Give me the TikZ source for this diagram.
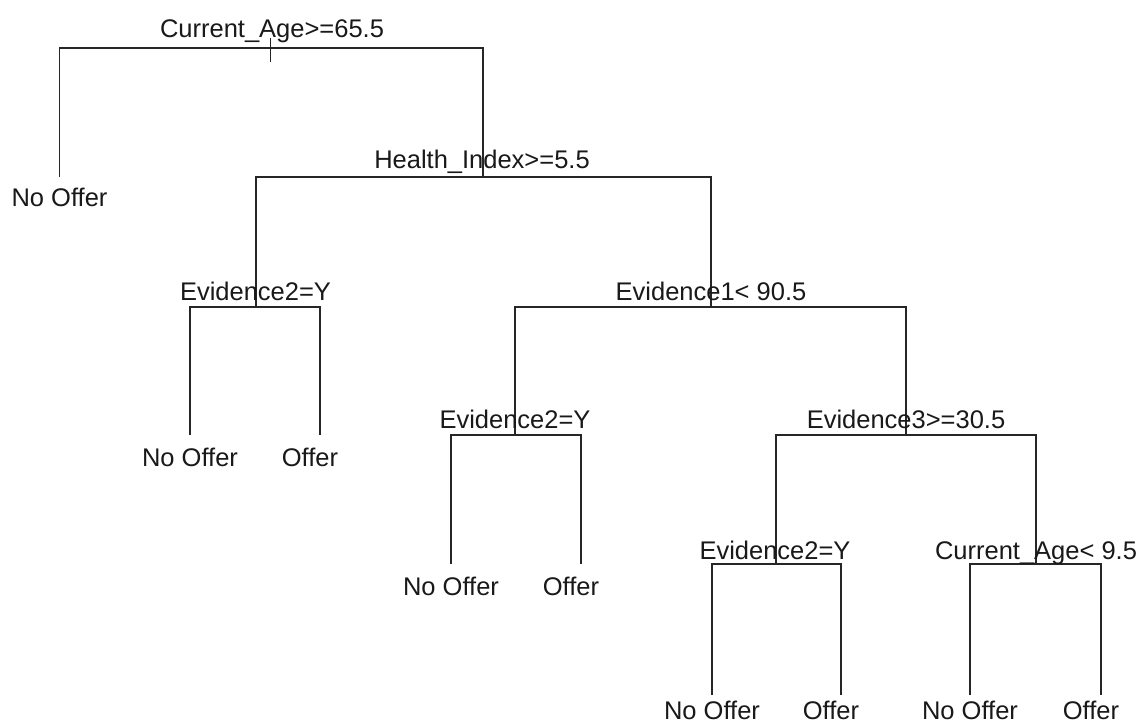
\documentclass[tikz,border=0pt]{standalone}
\usepackage{fontspec}
\setmainfont{Liberation Sans}
\tikzset{
  edge/.style={draw=black!85, line width=1.4pt},
  lbl/.style={anchor=base, inner sep=0pt, outer sep=0pt, font=\fontsize{25.5}{30}\selectfont, text=black!90},
}
\begin{document}
\begin{tikzpicture}[x=1pt,y=-1pt]
\useasboundingbox[fill=white] (0,0) rectangle (1138,725);
% split points
\coordinate (root) at (270.7,48);
\coordinate (hi) at (483,177);
\coordinate (e2l) at (256,307);
\coordinate (e1) at (711,307);
\coordinate (e2m) at (515,435);
\coordinate (e3) at (906,435);
\coordinate (e2r) at (776,564);
\coordinate (ca) at (1036,564);
% leaves
\coordinate (l1) at (59.5,177);
\coordinate (l2) at (190,435);
\coordinate (l3) at (320,435);
\coordinate (l4) at (451,564);
\coordinate (l5) at (581,564);
\coordinate (l6) at (712,695);
\coordinate (l7) at (841,695);
\coordinate (l8) at (970,695);
\coordinate (l9) at (1101,695);
% root tick
\coordinate (rt1) at (270.7,38);
\coordinate (rt2) at (270.7,62);
\draw[edge] (rt1) -- (rt2);
% connectors
\draw[edge] (l1) |- (root) -| (hi);
\draw[edge] (e2l) |- (hi) -| (e1);
\draw[edge] (l2) |- (e2l) -| (l3);
\draw[edge] (e2m) |- (e1) -| (e3);
\draw[edge] (l4) |- (e2m) -| (l5);
\draw[edge] (e2r) |- (e3) -| (ca);
\draw[edge] (l6) |- (e2r) -| (l7);
\draw[edge] (l8) |- (ca) -| (l9);
% split labels
\node[lbl] (troot) at (272,37.3) {Current\_Age>=65.5};
\node[lbl] (thi) at (482,168) {Health\_Index>=5.5};
\node[lbl] (te2l) at (255.5,300) {Evidence2=Y};
\node[lbl] (te1) at (711,300) {Evidence1< 90.5};
\node[lbl] (te2m) at (515,428.3) {Evidence2=Y};
\node[lbl] (te3) at (906,428.3) {Evidence3>=30.5};
\node[lbl] (te2r) at (775,559) {Evidence2=Y};
\node[lbl] (tca) at (1036,559) {Current\_Age< 9.5};
% leaf labels
\node[lbl] (tl1) at (59.5,206.7) {No Offer};
\node[lbl] (tl2) at (190,466) {No Offer};
\node[lbl] (tl3) at (310,466) {Offer};
\node[lbl] (tl4) at (451,595) {No Offer};
\node[lbl] (tl5) at (571,595) {Offer};
\node[lbl] (tl6) at (712,719) {No Offer};
\node[lbl] (tl7) at (831,719) {Offer};
\node[lbl] (tl8) at (970,719) {No Offer};
\node[lbl] (tl9) at (1091,719) {Offer};
\end{tikzpicture}
\end{document}
